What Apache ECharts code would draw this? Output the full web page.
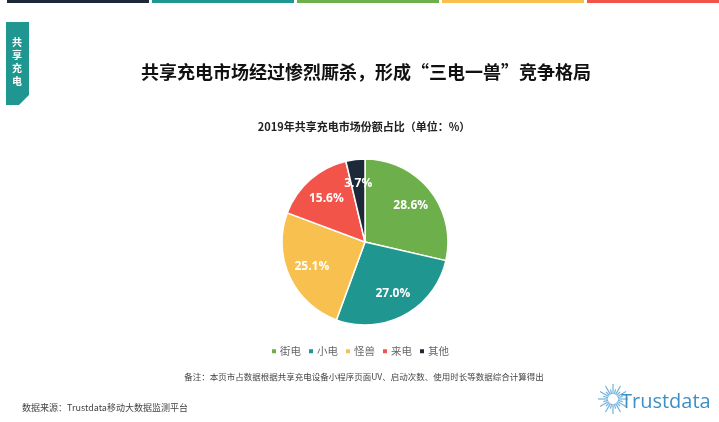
<!DOCTYPE html>
<html>
<head>
<meta charset="utf-8">
<script src="https://cdn.jsdelivr.net/npm/echarts@6/dist/echarts.min.js"></script>
<style>
  html, body { margin: 0; padding: 0; background: #fff; }
  #main { width: 719px; height: 422px; }
</style>
</head>
<body>
<div id="main"></div>
<script>
// 数据
let brands = ['街电', '小电', '怪兽', '来电', '其他'];
let shares = [28.6, 27.0, 25.1, 15.6, 3.7];
let colors = ['#6db04b', '#1f9690', '#f8c04e', '#f2544a', '#1d2939'];
let barColors = ['#1d2939', '#1f9690', '#6db04b', '#f8c04e', '#f2544a'];

let pieData = brands.map(function (b, i) {
    return {name: b, value: shares[i], itemStyle: {color: colors[i]}};
});

let cx = 365, cy = 242, r = 83;

// 顶部彩条
let graphics = [];
barColors.forEach(function (c, i) {
    graphics.push({
        type: 'rect', silent: true,
        shape: {x: 7 + i * 145, y: 0, width: 142, height: 3},
        style: {fill: c}
    });
});

// 左侧标签
graphics.push({
    type: 'polygon', silent: true,
    shape: {points: [[6, 22], [29, 22], [29, 95], [19, 105], [6, 105]]},
    style: {fill: '#1f9690'}
});
graphics.push({
    type: 'text', left: 12, top: 36, silent: true,
    style: {text: '共\n享\n充\n电', fill: '#fff', font: 'bold 10px "Noto Sans CJK SC"', lineHeight: 13}
});

// 标题
graphics.push({
    type: 'text', silent: true, x: 366, y: 72,
    style: {
        text: '共享充电市场经过惨烈厮杀，形成“三电一兽”竞争格局',
        fill: '#111', font: 'bold 18px "Noto Sans CJK SC"',
        textAlign: 'center', textVerticalAlign: 'middle'
    }
});
graphics.push({
    type: 'text', silent: true, x: 364, y: 127,
    style: {
        text: '2019年共享充电市场份额占比（单位：%）',
        fill: '#222', font: 'bold 11px "Noto Sans CJK SC"',
        textAlign: 'center', textVerticalAlign: 'middle'
    }
});

// 备注和来源
graphics.push({
    type: 'text', silent: true, x: 364, y: 377,
    style: {
        text: '备注：本页市占数据根据共享充电设备小程序页面UV、启动次数、使用时长等数据综合计算得出',
        fill: '#444', font: '8.5px "Noto Sans CJK SC"',
        textAlign: 'center', textVerticalAlign: 'middle'
    }
});
graphics.push({
    type: 'text', silent: true, x: 22, y: 408,
    style: {
        text: '数据来源：Trustdata移动大数据监测平台',
        fill: '#444', font: '9px "Noto Sans CJK SC"',
        textAlign: 'left', textVerticalAlign: 'middle'
    }
});

// logo
for (let k = 0; k < 24; k++) {
    let a = k / 24 * Math.PI * 2;
    let len = (k % 2 === 0) ? 15 : 10;
    graphics.push({
        type: 'line', silent: true,
        shape: {
            x1: 613 + Math.cos(a) * 5, y1: 399 + Math.sin(a) * 5,
            x2: 613 + Math.cos(a) * len, y2: 399 + Math.sin(a) * len
        },
        style: {stroke: '#6fb2dd', lineWidth: 1.2}
    });
}
graphics.push({
    type: 'text', silent: true, x: 621, y: 402,
    style: {
        text: 'Trustdata', fill: '#3f8fc6', font: '20px "Open Sans"',
        textAlign: 'left', textVerticalAlign: 'middle'
    }
});

let myChart = echarts.init(document.getElementById('main'));
let option = {
    backgroundColor: '#fff',
    animation: false,
    legend: {
        data: brands,
        left: 'center',
        top: 341,
        icon: 'rect',
        itemWidth: 6,
        itemHeight: 6,
        itemGap: 6,
        textStyle: {color: '#666', fontSize: 10.5, fontFamily: 'Noto Sans CJK SC', padding: [0, 0, 0, -2]}
    },
    graphic: graphics,
    series: [{
        type: 'pie',
        center: [cx, cy],
        radius: [0, r],
        startAngle: 90,
        clockwise: true,
        label: {show: false},
        labelLine: {show: false},
        itemStyle: {borderColor: '#fff', borderWidth: 1.5},
        data: pieData
    }, {
        type: 'pie',
        center: [cx, cy],
        radius: [28, r],
        startAngle: 90,
        clockwise: true,
        silent: true,
        legendHoverLink: false,
        label: {
            show: true, position: 'inside',
            formatter: function (p) { return p.value.toFixed(1) + '%'; },
            color: '#fff', fontSize: 12, fontWeight: 'bold', fontFamily: 'Open Sans'
        },
        labelLine: {show: false},
        itemStyle: {color: 'rgba(0,0,0,0)'},
        data: brands.map(function (b, i) { return {name: b + ' ', value: shares[i]}; })
    }]
};
myChart.setOption(option);
window.onresize = function () {
    myChart.resize();
}
</script>
</body>
</html>
